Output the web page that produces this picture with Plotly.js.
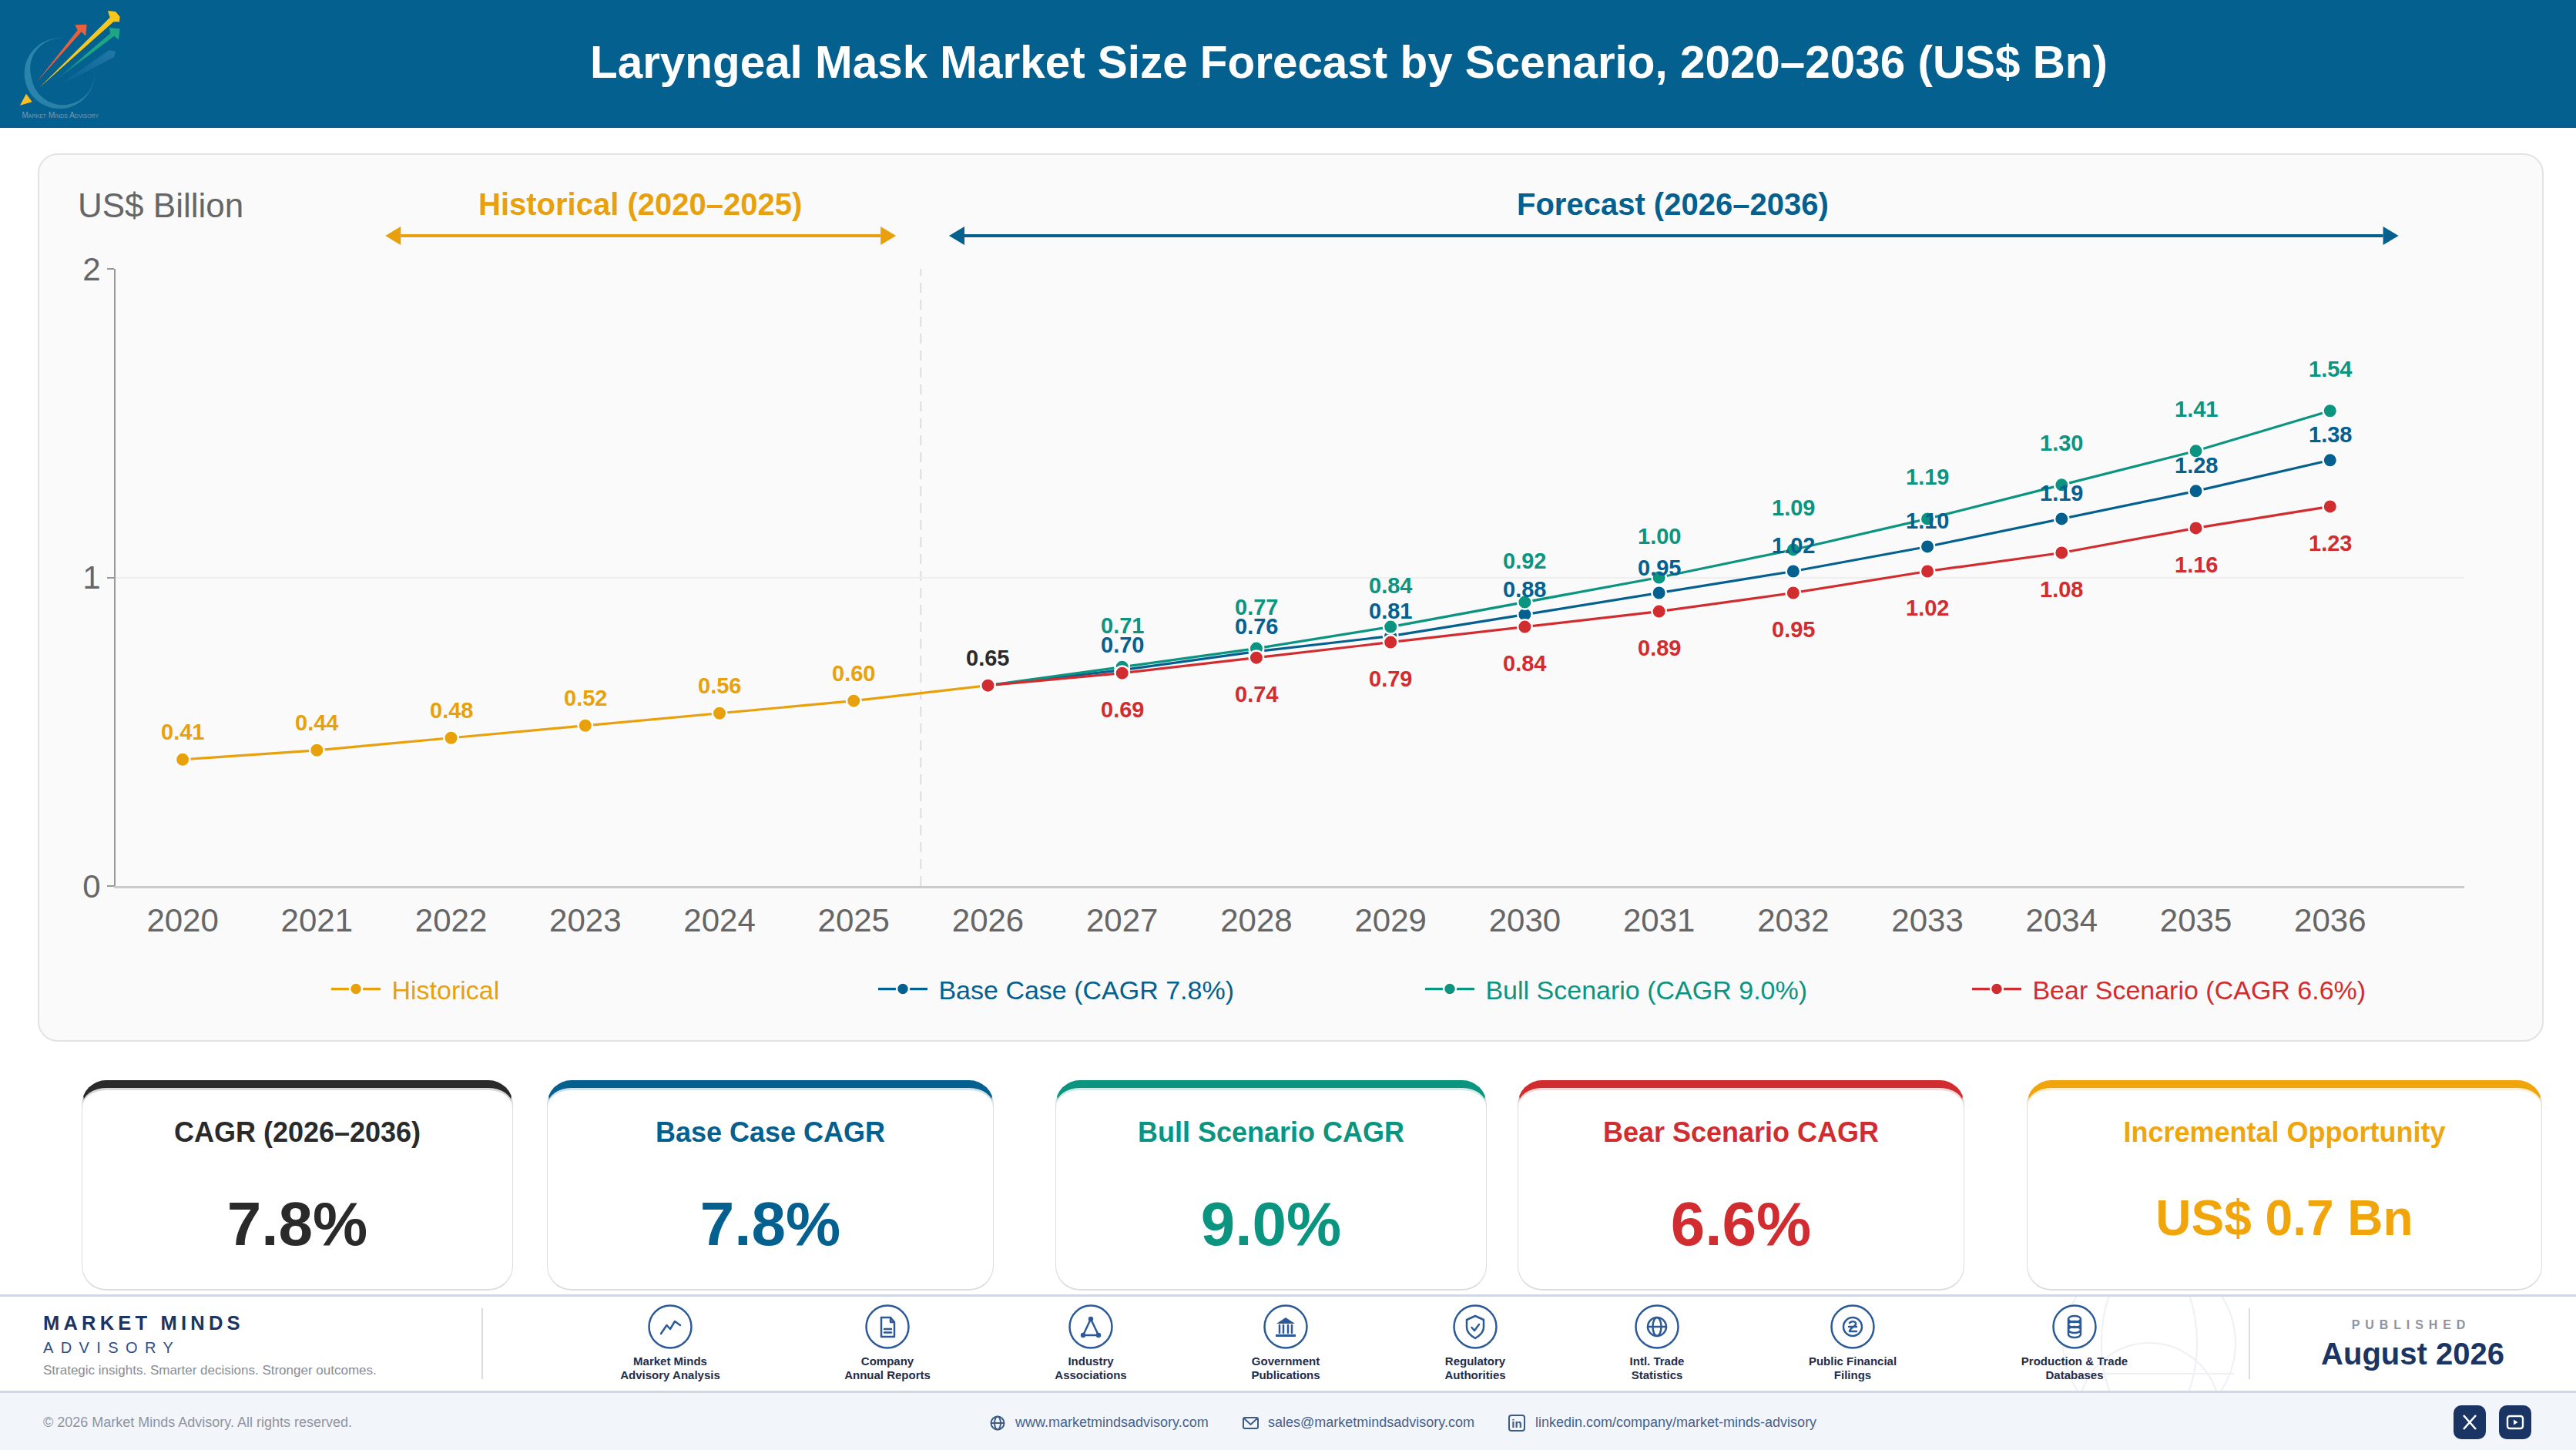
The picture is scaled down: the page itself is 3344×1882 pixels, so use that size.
<!DOCTYPE html>
<html><head><meta charset="utf-8">
<script src="https://cdn.plot.ly/plotly-3.0.1.min.js"></script>
<style>
html,body{margin:0;padding:0;background:#fff;width:3344px;height:1882px;overflow:hidden;font-family:"Liberation Sans",Arial,sans-serif}
.abs{position:absolute}
#header{left:0;top:0;width:3344px;height:166px;background:#04608f}
#chartcard{left:49px;top:199px;width:3249px;height:1149px;background:#fafafa;border:2px solid #e3e3e3;border-radius:26px}
#plot{position:absolute;left:0;top:0;width:3344px;height:1882px}
.kpi{position:absolute;top:1402px;height:273px;box-sizing:border-box;background:#fff;border:1.5px solid #dcdcdc;border-top-width:10px;border-bottom-width:2.5px;border-radius:32px}
.kpi .l{position:absolute;left:0;right:0;top:37px;line-height:42px;text-align:center;font-weight:bold;font-size:36px;white-space:nowrap}
.kpi .v{position:absolute;left:0;right:0;top:122px;line-height:110px;text-align:center;font-weight:bold;font-size:80px;white-space:nowrap}
#band1{left:0;top:1680px;width:3344px;height:128px;box-sizing:border-box;background:#fff;border-top:3px solid #d2d7e6;border-bottom:3px solid #d2d7e6;overflow:hidden}
#band2{left:0;top:1808px;width:3344px;height:74px;background:#f2f5fa}
.src{position:absolute;top:1758px;width:220px;text-align:center;font-weight:bold;font-size:15px;line-height:18px;color:#1f2d4d}
.t{position:absolute;white-space:nowrap}
.lnk{position:absolute;top:1835px;line-height:22px;font-size:18px;color:#46628c;white-space:nowrap}
.btn{position:absolute;top:1824px;width:42px;height:44px;background:#1a3464;border-radius:10px}
</style></head><body>
<div id="header" class="abs"></div>
<svg class="abs" style="left:10px;top:0" width="170" height="166" viewBox="0 0 510 498">
 <defs>
  <linearGradient id="rg" x1="0" y1="0" x2="1" y2="1"><stop offset="0" stop-color="#2b87ad"/><stop offset="1" stop-color="#2a7fa6"/></linearGradient>
  <linearGradient id="tg" x1="0" y1="1" x2="1" y2="0"><stop offset="0" stop-color="#1da585" stop-opacity=".1"/><stop offset=".5" stop-color="#1da585"/></linearGradient>
  <linearGradient id="bg2" x1="0" y1="1" x2="1" y2="0"><stop offset="0" stop-color="#2a7fb0" stop-opacity="0"/><stop offset="1" stop-color="#2a7fb0" stop-opacity=".75"/></linearGradient>
 </defs>
 <path d="M225,151 A137,137 0 1 0 338,270 A120,120 0 0 1 92,300 A118,118 0 0 1 225,151 Z" fill="url(#rg)"/>
 <polygon points="72,365 95,397 48,410" fill="#fbbf24"/>
 <polygon points="180,345 395,195 420,200 415,222" fill="url(#bg2)"/>
 <polygon points="175,322 400,130 395,108 437,112 432,155 415,140" fill="url(#tg)"/>
 <polygon points="112,320 272,118 262,97 308,95 304,140 287,124" fill="#e8603c"/>
 <polygon points="125,340 398,68 390,42 420,45 437,65 435,85 412,85" fill="#f8c71c"/>
 <text x="205" y="460" text-anchor="middle" font-size="30" fill="#6f9dbb" style="font-variant:small-caps">Market Minds Advisory</text>
</svg>
<div id="chartcard" class="abs"></div>
<div id="kpis"></div>
<div id="band1" class="abs">
 <svg style="position:absolute;left:0;top:0" width="3344" height="128">
  <g fill="none" stroke="#eef0f5" stroke-width="2">
   <circle cx="2790" cy="60" r="112"/><ellipse cx="2790" cy="60" rx="62" ry="112"/>
   <circle cx="2790" cy="152" r="92"/><path d="M2680,100 H2900"/>
  </g>
 </svg>
</div>
<div id="band2" class="abs"></div>
<div id="foot"></div>
<div id="plot"></div>
<script>
/* ---- chart data ---- */
const years = [2020,2021,2022,2023,2024,2025,2026,2027,2028,2029,2030,2031,2032,2033,2034,2035,2036];
const histYears = [2020,2021,2022,2023,2024,2025,2026];
const foreYears = [2026,2027,2028,2029,2030,2031,2032,2033,2034,2035,2036];
const historical = [0.41,0.44,0.48,0.52,0.56,0.60,0.65];
const baseCase = [0.65,0.70,0.76,0.81,0.88,0.95,1.02,1.10,1.19,1.28,1.38];
const bullCase = [0.65,0.71,0.77,0.84,0.92,1.00,1.09,1.19,1.30,1.41,1.54];
const bearCase = [0.65,0.69,0.74,0.79,0.84,0.89,0.95,1.02,1.08,1.16,1.23];
const seriesNames = ["Historical","Base Case (CAGR 7.8%)","Bull Scenario (CAGR 9.0%)","Bear Scenario (CAGR 6.6%)"];
const yTicks = [0,1,2];
const titleText = "Laryngeal Mask Market Size Forecast by Scenario, 2020–2036 (US$ Bn)";
const histSpan = [2021.51,2025.315];
const foreSpan = [2025.71,2036.51];
const splitYear = 2025.5;
/* ---- KPI ---- */
const kpiLabels = ["CAGR (2026–2036)","Base Case CAGR","Bull Scenario CAGR","Bear Scenario CAGR","Incremental Opportunity"];
const kpiValues = ["7.8%","7.8%","9.0%","6.6%","US$ 0.7 Bn"];
const kpiColors = ["#2a2a2a","#04608f","#0b9480","#d12d30","#f0a50c"];
const kpiLefts = [106,710,1370,1970,2631];
const kpiRights = [666,1290,1930,2550,3300];
/* ---- footer ---- */
const sourceLabels = [["Market Minds","Advisory Analysis"],["Company","Annual Reports"],["Industry","Associations"],["Government","Publications"],["Regulatory","Authorities"],["Intl. Trade","Statistics"],["Public Financial","Filings"],["Production &amp; Trade","Databases"]];
const sourceX = [870,1152,1416,1669,1915,2151,2405,2693];

const C = {hist:"#e8a10c",base:"#04608f",bull:"#0b9480",bear:"#d12d30",ink:"#2a2a2a",grey:"#666666"};
const FONT = '"Liberation Sans", Arial, sans-serif';

/* KPI cards */
document.getElementById('kpis').innerHTML = kpiLabels.map((l,i)=>{
  const big = kpiValues[i].length>5;
  return `<div class="kpi" style="left:${kpiLefts[i]}px;width:${kpiRights[i]-kpiLefts[i]}px;border-top-color:${kpiColors[i]};box-shadow:inset 0 3px 0 ${kpiColors[i]}30">
  <div class="l" style="color:${kpiColors[i]}">${l}</div>
  <div class="v" style="color:${kpiColors[i]};${big?'font-size:64px;top:114px':''}">${kpiValues[i]}</div></div>`;
}).join('');

/* footer */
const S = 'fill="none" stroke="#2c5a98" stroke-width="2.5" stroke-linecap="round" stroke-linejoin="round"';
const F = 'fill="#2c5a98"';
const glyphs = [
 `<path ${S} d="M-12,9 L-4.5,-2 L0,3 L6,-7 L13,-2"/>`,
 `<path ${S} d="M-8,-12 H4 L9,-6 V13 H-8 Z M4,-12 V-6 H9 M-4,3 H5 M-4,7.5 H5"/>`,
 `<path ${S} d="M0,-10 L-10,11 H10 Z"/><circle cx="0" cy="-10" r="3.2" ${F}/><circle cx="-10" cy="11" r="3.2" ${F}/><circle cx="10" cy="11" r="3.2" ${F}/>`,
 `<path ${F} d="M0,-12 L12,-4 H-12 Z M-13,10 H13 V13 H-13 Z"/><path ${S} d="M-8,-2 V8 M-3,-2 V8 M3,-2 V8 M8,-2 V8"/>`,
 `<path ${S} d="M0,-14 L11,-9 V1 C11,7 5,12 0,15 C-5,12 -11,7 -11,1 V-9 Z M-4.5,1 L-1,5 L5,-3"/>`,
 `<circle r="12" ${S}/><ellipse rx="5.5" ry="12" ${S}/><path ${S} d="M-12,0 H12"/>`,
 `<circle r="12" ${S}/><path ${S} d="M-4,-5 C-1,-8 5,-7 4,-3 C3,0 -4,2 -4,6 H5 M-5,0 H5"/>`,
 `<path ${S} d="M-8,-10 A8,4 0 0 1 8,-10 A8,4 0 0 1 -8,-10 Z M-8,-10 V10 A8,4 0 0 0 8,10 V-10 M-8,-3 A8,4 0 0 0 8,-3 M-8,-3 A8,4 0 0 1 8,-3 M-8,4 A8,4 0 0 0 8,4 M-8,4 A8,4 0 0 1 8,4"/>`
];
let foot = `
<div class="t" style="left:56px;top:1702px;font-size:25.5px;line-height:30px;font-weight:bold;letter-spacing:5.2px;color:#1a3464">MARKET MINDS</div>
<div class="t" style="left:56px;top:1737px;font-size:20px;line-height:24px;letter-spacing:9.4px;color:#2f4f86">ADVISORY</div>
<div class="t" style="left:56px;top:1769px;font-size:17px;line-height:20px;color:#888c96">Strategic insights. Smarter decisions. Stronger outcomes.</div>
<div class="abs" style="left:625px;top:1698px;width:2px;height:92px;background:#dcdcdc"></div>
<div class="abs" style="left:2919px;top:1698px;width:2px;height:92px;background:#dcdcdc"></div>
<div class="t" style="left:2980px;width:300px;text-align:center;top:1710px;font-size:16px;line-height:20px;font-weight:bold;letter-spacing:6.9px;color:#8f94a0">PUBLISHED</div>
<div class="t" style="left:2982px;width:300px;text-align:center;top:1733px;font-size:40px;line-height:48px;font-weight:bold;color:#1a3464">August 2026</div>
<div class="t" style="left:56px;top:1835px;font-size:18px;line-height:22px;color:#8f94a0">© 2026 Market Minds Advisory. All rights reserved.</div>
<div class="lnk" style="left:1318px">www.marketmindsadvisory.com</div>
<div class="lnk" style="left:1646px">sales@marketmindsadvisory.com</div>
<div class="lnk" style="left:1993px">linkedin.com/company/market-minds-advisory</div>
<svg class="abs" style="left:1280px;top:1830px" width="720" height="34" fill="none" stroke="#3e5b86" stroke-width="2">
 <circle cx="15" cy="17" r="8.5"/><ellipse cx="15" cy="17" rx="4" ry="8.5"/><path d="M6.5,17 H23.5"/>
 <rect x="334" y="10" width="19" height="14" rx="2"/><path d="M335,11 L343.5,19 L352,11"/>
 <rect x="679" y="7" width="20" height="20" rx="3"/>
 <text x="689" y="23" text-anchor="middle" font-size="15" font-weight="bold" stroke="none" fill="#3e5b86">in</text>
</svg>
<div class="btn" style="left:3185px"><svg width="42" height="44" fill="none" stroke="#fff" stroke-width="2.6"><path d="M13,13 L29,31 M29,13 L13,31"/></svg></div>
<div class="btn" style="left:3244px"><svg width="42" height="44" fill="none" stroke="#fff" stroke-width="2.4"><rect x="11" y="14" width="20" height="16" rx="3"/><path d="M19,18.5 L24.5,22 L19,25.5 Z" fill="#fff" stroke="none"/></svg></div>`;
sourceX.forEach((x,i)=>{
  foot += `<svg class="abs" style="left:${x-32}px;top:1690px;overflow:visible" width="64" height="64" viewBox="-32 -32 64 64"><circle r="27.5" fill="#fff" stroke="#2c5a98" stroke-width="2.5"/>${glyphs[i]}</svg>`;
  foot += `<div class="src" style="left:${x-110}px">${sourceLabels[i].join('<br>')}</div>`;
});
document.getElementById('foot').innerHTML = foot;

/* Plotly chart */
function lineTrace(name,x,y,color){
  return {type:'scatter',mode:'lines+markers',name:`<span style="color:${color}">\u00A0${name}</span>`,x:x,y:y,cliponaxis:false,
    line:{color:color,width:3.2},marker:{color:color,size:18.5,line:{color:'#ffffff',width:2.5}},hoverinfo:'skip'};
}
const traces = [
  lineTrace(seriesNames[0],histYears,historical,C.hist),
  lineTrace(seriesNames[1],foreYears,baseCase,C.base),
  lineTrace(seriesNames[2],foreYears,bullCase,C.bull),
  lineTrace(seriesNames[3],foreYears,bearCase,C.bear)
];
function labels(xs,ys,color,shift,skip){
  return xs.map((x,i)=> i<skip ? null : ({xref:'x',yref:'y',x:x,y:ys[i],text:ys[i].toFixed(2),showarrow:false,yshift:shift,xanchor:'center',yanchor:'middle',
     font:{family:FONT,size:29,weight:'bold',color:(x===2026?C.ink:color)}})).filter(Boolean);
}
const PL=150,PR=3199,PT=349,PB=1150;
const py = v => (PB-v)/(PB-PT);
const px = v => (v-PL)/(PR-PL);
const annotations = [
  ...labels(histYears,historical,C.hist,36,0),
  ...labels(foreYears,bullCase,C.bull,54,1),
  ...labels(foreYears,baseCase,C.base,33,1),
  ...labels(foreYears,bearCase,C.bear,-47.5,1),
  {xref:'paper',yref:'paper',x:px(99),y:py(266),text:'US$ Billion',showarrow:false,xanchor:'left',yanchor:'middle',font:{family:FONT,size:44,color:C.grey}},
  {xref:'paper',yref:'paper',x:px(831),y:py(265),text:'Historical (2020–2025)',showarrow:false,xanchor:'center',yanchor:'middle',font:{family:FONT,size:40,weight:'bold',color:C.hist}},
  {xref:'paper',yref:'paper',x:px(2171),y:py(265),text:'Forecast (2026–2036)',showarrow:false,xanchor:'center',yanchor:'middle',font:{family:FONT,size:40,weight:'bold',color:C.base}}
];
function arrow(span,color){
  const y=py(306), hx=0.115, hy=12/(PB-PT);
  return [
   {type:'line',xref:'x',yref:'paper',x0:span[0]+hx,x1:span[1]-hx,y0:y,y1:y,line:{color:color,width:4}},
   {type:'path',xref:'x',yref:'paper',fillcolor:color,line:{width:0},path:`M${span[0]},${y} L${span[0]+hx},${y+hy} L${span[0]+hx},${y-hy} Z`},
   {type:'path',xref:'x',yref:'paper',fillcolor:color,line:{width:0},path:`M${span[1]},${y} L${span[1]-hx},${y+hy} L${span[1]-hx},${y-hy} Z`}
  ];
}
const layout = {
  width:3344,height:1882,autosize:false,
  paper_bgcolor:'rgba(0,0,0,0)',plot_bgcolor:'rgba(0,0,0,0)',
  margin:{l:PL,r:3344-PR,t:PT,b:1882-PB,pad:0,autoexpand:false},
  font:{family:FONT,color:C.grey},
  title:{text:titleText,x:1751/3344,y:1-81/1882,xanchor:'center',yanchor:'middle',pad:{t:0,b:0,l:0,r:0},font:{family:FONT,size:58.4,weight:'bold',color:'#ffffff'}},
  xaxis:{type:'linear',range:[2019.5,2037],tickvals:years,ticktext:years.map(String),ticks:'',showgrid:false,zeroline:false,showline:true,linecolor:'#cccccc',linewidth:3,
    tickfont:{family:FONT,size:42,color:C.grey},ticklabelstandoff:6,fixedrange:true},
  yaxis:{range:[0,2],tickvals:yTicks,ticktext:yTicks.map(String),ticks:'outside',ticklen:9,tickwidth:2,tickcolor:'#999999',showline:true,linecolor:'#999999',linewidth:2,
    showgrid:true,gridcolor:'#eeeeee',gridwidth:2,zeroline:false,tickfont:{family:FONT,size:42,color:C.grey},fixedrange:true},
  legend:{orientation:'h',xref:'paper',yref:'paper',x:px(425),y:py(1284),xanchor:'left',yanchor:'middle',bgcolor:'rgba(0,0,0,0)',borderwidth:0,
    itemwidth:64,entrywidth:631,entrywidthmode:'pixels',traceorder:'normal',font:{family:FONT,size:34},itemclick:false,itemdoubleclick:false},
  annotations:annotations,
  shapes:[
   {type:'line',xref:'x',yref:'y',x0:splitYear,x1:splitYear,y0:0,y1:2,layer:'below',line:{color:'#dddddd',width:2,dash:'13px,9px'}},
   ...arrow(histSpan,C.hist),...arrow(foreSpan,C.base)
  ]
};
Plotly.newPlot('plot',traces,layout,{displayModeBar:false,staticPlot:true,responsive:false});
</script>
</body></html>
